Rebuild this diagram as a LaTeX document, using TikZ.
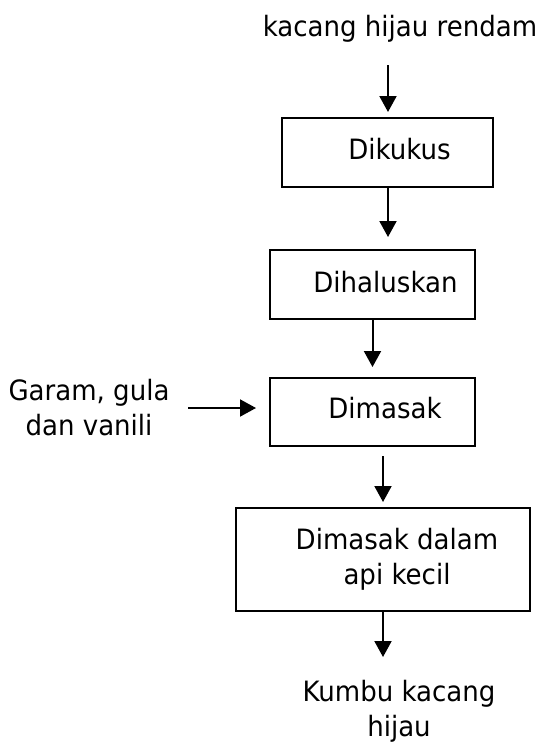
\documentclass[tikz,border=0pt]{standalone}
\usepackage{fontspec}
\setmainfont[FakeStretch=0.93]{DejaVu Sans}
\usetikzlibrary{arrows.meta}
\begin{document}
\begin{tikzpicture}[x=1pt,y=-1pt,
  every node/.style={font=\fontsize{28}{35}\selectfont, inner sep=0pt},
  box/.style={draw, line width=2pt, fill=none},
  lbl/.style={align=center},
  arr/.style={line width=2pt, -{Triangle[length=16pt,width=17pt]}}]
\useasboundingbox[fill=white] (0,0) rectangle (541,742);
% boxes
\node[box, minimum width=211pt, minimum height=69pt] (b1) at (387.5,152.5) {};
\node[box, minimum width=205pt, minimum height=69pt] (b2) at (372.5,284.5) {};
\node[box, minimum width=205pt, minimum height=68pt] (b3) at (372.5,412) {};
\node[box, minimum width=294pt, minimum height=103pt] (b4) at (383,559.5) {};
% texts
\node[anchor=base] (in) at (400,36) {kacang hijau rendam};
\node[anchor=base] (t1) at (399.5,159) {Dikukus};
\node[anchor=base] (t2) at (385.5,292) {Dihaluskan};
\node[anchor=base] (t3) at (385,418) {Dimasak};
\node[lbl] (t4) at (397,559) {Dimasak dalam\\api kecil};
\node[lbl] (add) at (89,408) {Garam, gula\\dan vanili};
\node[lbl] (out) at (399,711) {Kumbu kacang\\hijau};
% connectors
\coordinate (a1s) at (388,65);
\coordinate (s0) at (188,408);
\coordinate (a5e) at (383,657);
\draw[arr, shorten >=5pt] (a1s) -- (a1s |- b1.north);
\draw[arr, shorten >=12pt] (a1s |- b1.south) -- (a1s |- b2.north);
\draw[arr, shorten >=10pt] (b2.south) -- (b3.north);
\draw[arr, shorten <=9pt, shorten >=5pt] (b3.south -| b4.north) -- (b4.north);
\draw[arr] (b4.south) -- (a5e);
\draw[arr, shorten >=13pt] (s0) -- (b3.west |- s0);
\end{tikzpicture}
\end{document}
